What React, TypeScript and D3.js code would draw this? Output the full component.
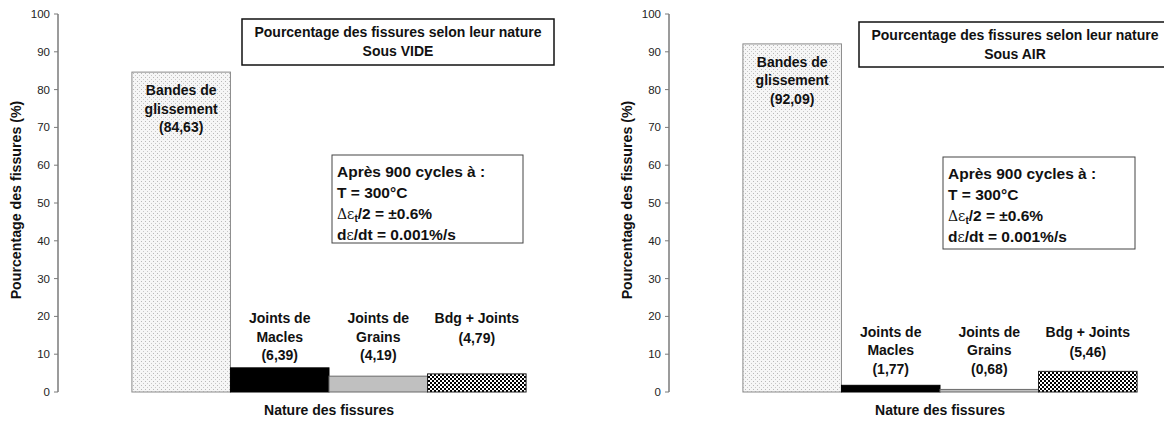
import React from 'react';
import * as d3 from 'd3';

// Data
const categories = ['Bandes de glissement', 'Joints de Macles', 'Joints de Grains', 'Bdg + Joints'];
const categoryLines = [
  ['Bandes de', 'glissement'],
  ['Joints de', 'Macles'],
  ['Joints de', 'Grains'],
  ['Bdg + Joints'],
];
const videValues = [84.63, 6.39, 4.19, 4.79];
const airValues = [92.09, 1.77, 0.68, 5.46];
const videValueLabels = ['(84,63)', '(6,39)', '(4,19)', '(4,79)'];
const airValueLabels = ['(92,09)', '(1,77)', '(0,68)', '(5,46)'];
const yTicks = [0, 10, 20, 30, 40, 50, 60, 70, 80, 90, 100];

const FONT = "'Liberation Sans', Arial, sans-serif";
const fills = ['url(#dots)', '#000000', '#c0c0c0', 'url(#checker)'];
const strokes = ['#8a8a8a', '#000000', '#6a6a6a', '#222222'];

interface ChartProps {
  x0: number;
  values: number[];
  valueLabels: string[];
  env: string;
  labelTop: number;
  titleBox: { x: number; y: number; w: number; h: number };
  infoBox: { x: number; y: number; w: number; h: number };
}

const Chart: React.FC<ChartProps> = ({ x0, values, valueLabels, env, labelTop, titleBox, infoBox }) => {
  const plotLeft = x0;
  const plotRight = x0 + 542;
  const y = d3.scaleLinear().domain([0, 100]).range([392, 14]);
  const x = d3.scaleBand<string>().domain(categories).range([plotLeft, plotRight]).paddingInner(0).paddingOuter(0.75);
  const bw = x.bandwidth();
  const cx = (plotLeft + plotRight) / 2;

  return (
    <g>
      {/* y axis */}
      <line x1={plotLeft} x2={plotLeft} y1={y(100)} y2={y(0)} stroke="#7a7a7a" strokeWidth={1.5} />
      {yTicks.map(t => (
        <g key={t}>
          <line x1={plotLeft - 4} x2={plotLeft} y1={y(t)} y2={y(t)} stroke="#7a7a7a" strokeWidth={1} />
          <text x={plotLeft - 8} y={y(t)} dy="0.35em" textAnchor="end" fontSize={11.5} fill="#222">{t}</text>
        </g>
      ))}
      <text transform={`translate(${plotLeft - 37},${(y(0) + y(100)) / 2 - 3}) rotate(-90)`} textAnchor="middle"
        fontSize={14.2} fontWeight="bold" fill="#111">Pourcentage des fissures (%)</text>

      {/* bars */}
      {categories.map((c, i) => (
        <rect key={c} x={x(c)!} y={y(values[i])} width={bw} height={y(0) - y(values[i])}
          fill={fills[i]} stroke={strokes[i]} strokeWidth={1} />
      ))}

      {/* category labels */}
      {categories.map((c, i) => {
        const lines = [...categoryLines[i], valueLabels[i]];
        const top = i === 0 ? y(values[i]) + 23 : y(labelTop) + 5;
        return (
          <text key={c} x={x(c)! + bw / 2} y={top} textAnchor="middle" fontSize={14} fontWeight="bold" fill="#111">
            {lines.map((l, k) => (
              <tspan key={k} x={x(c)! + bw / 2} y={top + k * (i === 3 ? 20 : 18.5)}>{l}</tspan>
            ))}
          </text>
        );
      })}

      <text x={cx} y={415} textAnchor="middle" fontSize={14} fontWeight="bold" fill="#111">Nature des fissures</text>

      {/* title box */}
      <rect x={x0 + titleBox.x} y={titleBox.y} width={titleBox.w} height={titleBox.h} fill="#fff" stroke="#111" strokeWidth={1.5} />
      <text x={x0 + titleBox.x + titleBox.w / 2} y={titleBox.y + 18} textAnchor="middle" fontSize={14} fontWeight="bold" fill="#111">
        Pourcentage des fissures selon leur nature
      </text>
      <text x={x0 + titleBox.x + titleBox.w / 2} y={titleBox.y + 37} textAnchor="middle" fontSize={14} fontWeight="bold" fill="#111">
        Sous {env}
      </text>

      {/* info box */}
      <rect x={x0 + infoBox.x} y={infoBox.y} width={infoBox.w} height={infoBox.h} fill="#fff" stroke="#444" strokeWidth={1} />
      <g fontSize={15.5} fontWeight="bold" fill="#111">
        <text x={x0 + infoBox.x + 5} y={infoBox.y + 22}>Après 900 cycles à :</text>
        <text x={x0 + infoBox.x + 5} y={infoBox.y + 43}>T = 300°C</text>
        <text x={x0 + infoBox.x + 5} y={infoBox.y + 64}>
          <tspan fontFamily="'DejaVu Serif', serif" fontWeight="normal" fontSize={14}>Δε</tspan>
          <tspan fontSize={10} dy={3}>t</tspan>
          <tspan dy={-3}>/2 = ±0.6%</tspan>
        </text>
        <text x={x0 + infoBox.x + 5} y={infoBox.y + 85}>
          d<tspan fontFamily="'DejaVu Serif', serif" fontWeight="normal" fontSize={14}>ε</tspan>/dt = 0.001%/s
        </text>
      </g>
    </g>
  );
};

export default function App() {
  return (
    <svg width={1164} height={422} style={{ position: 'absolute', left: 0, top: 0, background: '#fff' }} fontFamily={FONT}>
      <defs>
        <pattern id="dots" width={4} height={4} patternUnits="userSpaceOnUse">
          <rect width={4} height={4} fill="#f6f6f6" />
          <rect x={1} y={1} width={1} height={1} fill="#b8b8b8" />
          <rect x={3} y={3} width={1} height={1} fill="#c8c8c8" />
        </pattern>
        <pattern id="checker" width={4} height={4} patternUnits="userSpaceOnUse">
          <rect width={4} height={4} fill="#ffffff" />
          <rect x={0} y={0} width={2} height={2} fill="#000" />
          <rect x={2} y={2} width={2} height={2} fill="#000" />
        </pattern>
      </defs>
      <rect width={1164} height={422} fill="#fff" />
      <Chart x0={58} values={videValues} valueLabels={videValueLabels} env="VIDE" labelTop={19.5}
        titleBox={{ x: 184, y: 19, w: 312, h: 46 }} infoBox={{ x: 274, y: 155, w: 191, h: 88 }} />
      <Chart x0={669} values={airValues} valueLabels={airValueLabels} env="AIR" labelTop={16}
        titleBox={{ x: 190, y: 22, w: 312, h: 45 }} infoBox={{ x: 274, y: 157, w: 192, h: 92 }} />
    </svg>
  );
}
